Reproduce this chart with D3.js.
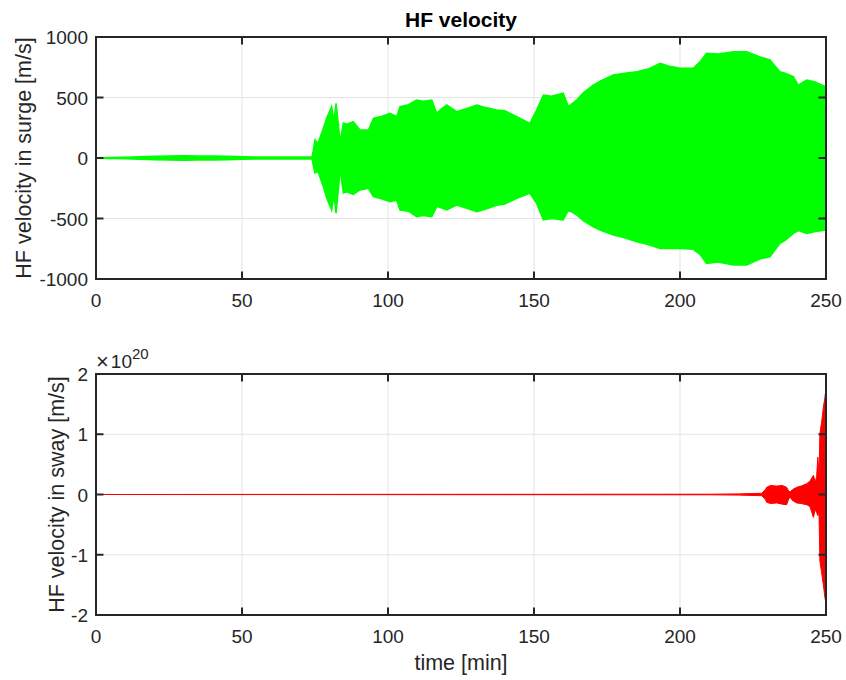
<!DOCTYPE html>
<html>
<head>
<meta charset="utf-8">
<script src="https://cdn.jsdelivr.net/npm/d3@7"></script>
<style>
  body { margin: 0; background: #fff; }
  svg { font-family: "Liberation Sans", Arial, sans-serif; }
  .tick-label { font-size: 19px; fill: #262626; }
  .axis-label { font-size: 21.5px; fill: #262626; }
</style>
</head>
<body>
<svg id="chart" width="846" height="680"></svg>
<script>
// time axis [min]
var xTicks = [0, 50, 100, 150, 200, 250];

// HF velocity in surge, envelope [m/s]
var surgeTime = [0, 5, 10, 15, 20, 25, 30, 35, 40, 45, 50, 55, 60, 65, 70, 74, 74.4, 75, 76, 77.9,
    79, 80.7, 81.5, 82.2, 83, 83.6, 84.7, 86, 88.1, 90.4, 93.3, 95, 98, 100.7, 103, 104.1, 107, 109.8,
    112, 115, 116.7, 118, 120.1, 123.5, 127, 130.4, 133, 137.2, 140, 144.1, 148.6, 150.9, 153.2, 156,
    160, 161.8, 164.6, 167, 170.3, 173, 177.2, 181, 185.2, 189, 193.2, 196, 200, 204.6, 207, 209.1,
    213, 218.3, 222.8, 226, 228, 230.8, 234.2, 236, 238.8, 240.5, 243.4, 246, 250];
var surgeUpper = [2, 4, 6, 10, 14, 16, 18, 17, 16, 14, 10, 8, 8, 8, 8, 8, 60, 150, 120, 248,
    330, 424, 300, 452, 280, 124, 289, 280, 300, 231, 231, 328, 345, 369, 341, 424, 440, 479,
    470, 479, 369, 400, 438, 383, 410, 438, 420, 397, 390, 341, 286, 397, 521, 510,
    535, 424, 479, 540, 603, 640, 686, 700, 713, 735, 782, 760, 741, 741, 800, 865,
    860, 878, 878, 850, 830, 810, 713, 700, 672, 603, 645, 630, 589];
var surgeLower = [-2, -4, -6, -10, -14, -16, -18, -17, -16, -14, -10, -8, -8, -8, -8, -8, -60, -124, -110, -240,
    -330, -430, -300, -455, -260, -90, -289, -280, -300, -264, -250, -320, -340, -361, -350, -430, -440, -485,
    -475, -485, -402, -410, -430, -389, -415, -444, -425, -390, -380, -333, -292, -375, -512, -500,
    -512, -430, -470, -520, -568, -600, -636, -660, -692, -715, -747, -745, -747, -755, -800, -871,
    -860, -885, -885, -850, -830, -816, -706, -680, -623, -600, -623, -610, -595];
var surgeTicks = [-1000, -500, 0, 500, 1000];

// HF velocity in sway, envelope in units of 1e20 m/s
var swayTime = [0, 210, 220, 228, 229.2, 229.7, 231, 233.1, 235, 236.5, 237.2, 237.7, 238.5, 240,
    241.5, 243.4, 244.5, 245.7, 246.3, 246.8, 247.2, 247.6, 247.9, 248.5, 249.1, 249.6, 250];
var swayUpper = [0, 0.005, 0.01, 0.02, 0.08, 0.12, 0.15, 0.14, 0.15, 0.12, 0.06, 0.04, 0.08, 0.12,
    0.14, 0.18, 0.22, 0.32, 0.2, 0.3, 0.62, 0.3, 1.01, 1.2, 1.45, 1.6, 1.76];
var swayLower = [0, -0.005, -0.01, -0.02, -0.08, -0.13, -0.15, -0.14, -0.16, -0.17, -0.08, -0.04, -0.1, -0.14,
    -0.15, -0.17, -0.2, -0.38, -0.25, -0.3, -0.35, -0.3, -1.1, -1.3, -1.5, -1.7, -1.82];
var swayTicks = [-2, -1, 0, 1, 2];

var svg = d3.select('#chart');
var axisColor = '#262626';
var gridColor = '#e3e3e3';
var tickLen = 7.5;

var x = d3.scaleLinear().domain([0, 250]).range([96, 826]);

function drawPanel(opts) {
    var y = d3.scaleLinear().domain(opts.domain).range([opts.bottom, opts.top]);
    var g = svg.append('g');

    g.append('clipPath').attr('id', opts.id + '-clip')
        .append('rect')
        .attr('x', x.range()[0]).attr('y', opts.top)
        .attr('width', x.range()[1] - x.range()[0])
        .attr('height', opts.bottom - opts.top);

    // grid
    g.selectAll('.vgrid').data(xTicks.slice(1, -1)).enter().append('line')
        .attr('x1', function (d) { return x(d); }).attr('x2', function (d) { return x(d); })
        .attr('y1', opts.top).attr('y2', opts.bottom)
        .attr('stroke', gridColor).attr('stroke-width', 1);
    g.selectAll('.hgrid').data(opts.ticks.slice(1, -1)).enter().append('line')
        .attr('y1', function (d) { return y(d); }).attr('y2', function (d) { return y(d); })
        .attr('x1', x.range()[0]).attr('x2', x.range()[1])
        .attr('stroke', gridColor).attr('stroke-width', 1);

    // signal envelope
    var pts = opts.time.map(function (t, i) {
        return {t: t, hi: opts.upper[i], lo: opts.lower[i]};
    });
    var area = d3.area()
        .x(function (d) { return x(d.t); })
        .y0(function (d) { return y(d.lo); })
        .y1(function (d) { return y(d.hi); });
    var plot = g.append('g').attr('clip-path', 'url(#' + opts.id + '-clip)');
    plot.append('path').datum(pts)
        .attr('d', area)
        .attr('fill', opts.color)
        .attr('stroke', opts.color)
        .attr('stroke-width', opts.stroke)
        .attr('stroke-linejoin', 'miter');

    // box
    g.append('rect')
        .attr('x', x.range()[0]).attr('y', opts.top)
        .attr('width', x.range()[1] - x.range()[0])
        .attr('height', opts.bottom - opts.top)
        .attr('fill', 'none').attr('stroke', axisColor).attr('stroke-width', 2);

    // ticks inside, on all four sides
    xTicks.forEach(function (d) {
        g.append('line').attr('x1', x(d)).attr('x2', x(d))
            .attr('y1', opts.bottom).attr('y2', opts.bottom - tickLen)
            .attr('stroke', axisColor).attr('stroke-width', 2);
        g.append('line').attr('x1', x(d)).attr('x2', x(d))
            .attr('y1', opts.top).attr('y2', opts.top + tickLen)
            .attr('stroke', axisColor).attr('stroke-width', 2);
    });
    opts.ticks.forEach(function (d) {
        g.append('line').attr('y1', y(d)).attr('y2', y(d))
            .attr('x1', x.range()[0]).attr('x2', x.range()[0] + tickLen)
            .attr('stroke', axisColor).attr('stroke-width', 2);
        g.append('line').attr('y1', y(d)).attr('y2', y(d))
            .attr('x1', x.range()[1]).attr('x2', x.range()[1] - tickLen)
            .attr('stroke', axisColor).attr('stroke-width', 2);
    });

    // tick labels
    g.selectAll('.xl').data(xTicks).enter().append('text')
        .attr('class', 'tick-label')
        .attr('x', function (d) { return x(d); })
        .attr('y', opts.bottom + 28)
        .attr('text-anchor', 'middle')
        .text(function (d) { return d; });
    g.selectAll('.yl').data(opts.ticks).enter().append('text')
        .attr('class', 'tick-label')
        .attr('x', x.range()[0] - 8)
        .attr('y', function (d) { return y(d) + 7; })
        .attr('text-anchor', 'end')
        .text(function (d) { return d; });

    // y label
    g.append('text')
        .attr('class', 'axis-label')
        .attr('transform', 'translate(' + opts.labelX + ',' + (opts.top + opts.bottom) / 2 + ') rotate(-90)')
        .attr('text-anchor', 'middle')
        .attr('dy', '0.35em')
        .text(opts.label);
    return g;
}

drawPanel({
    id: 'surge', top: 37, bottom: 279, domain: [-1000, 1000], ticks: surgeTicks,
    time: surgeTime, upper: surgeUpper, lower: surgeLower,
    color: '#00ff00', stroke: 1.5, labelX: 23, label: 'HF velocity in surge [m/s]'
});

var sway = drawPanel({
    id: 'sway', top: 374, bottom: 615, domain: [-2, 2], ticks: swayTicks,
    time: swayTime, upper: swayUpper, lower: swayLower,
    color: '#ff0000', stroke: 1, labelX: 56, label: 'HF velocity in sway [m/s]'
});

// exponent marker
var expo = sway.append('text').attr('x', 96).attr('y', 368).attr('fill', axisColor);
expo.append('tspan').attr('font-size', '22px').attr('dy', 1).text('\u00d7');
expo.append('tspan').attr('font-size', '19px').attr('dy', -1).attr('dx', 2).text('10');
expo.append('tspan').attr('font-size', '15px').attr('dy', -9).text('20');

// title and x label
svg.append('text')
    .attr('x', 461).attr('y', 27)
    .attr('text-anchor', 'middle')
    .attr('font-size', '21px').attr('font-weight', 'bold').attr('fill', '#000')
    .text('HF velocity');
svg.append('text')
    .attr('class', 'axis-label')
    .attr('x', 461).attr('y', 670)
    .attr('text-anchor', 'middle')
    .text('time [min]');
</script>
</body>
</html>
